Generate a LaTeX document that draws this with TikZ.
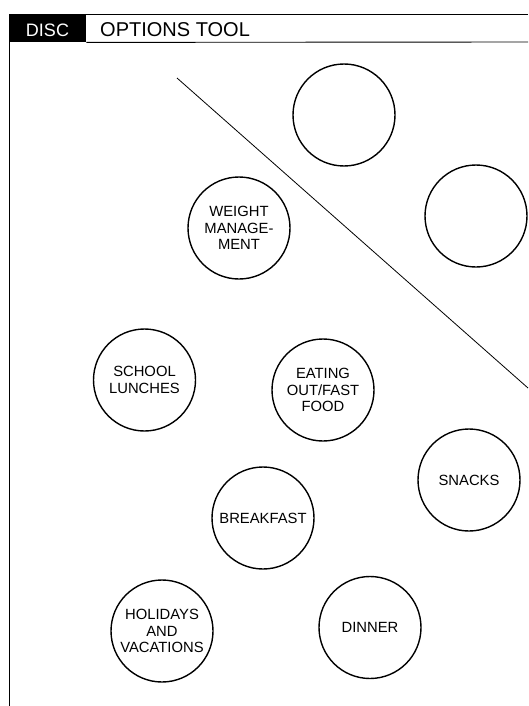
\documentclass[tikz,border=0pt]{standalone}
\usepackage{fontspec}
\setmainfont{Liberation Sans}
\usetikzlibrary{
    positioning
}
\tikzset{
  option/.style = {draw, circle, line width=1.4pt, minimum size=102pt,
                   inner sep=0pt, align=center,
                   font=\fontsize{14.8}{16.7}\selectfont},
  hdr/.style    = {inner sep=0pt, font=\fontsize{20}{24}\selectfont},
  rule/.style   = {line width=0.9pt}
}

\begin{document}
\begin{tikzpicture}[x=1pt, y=-1pt]
    \useasboundingbox (0,0) rectangle (528,706);

    % ── HEADER ──
    \node[fill=black, minimum width=77pt, minimum height=28pt,
          inner sep=0pt, anchor=north west] (tag) at (9,14) {};
    \node[hdr, text=white, anchor=base,
          font=\fontsize{18}{24}\selectfont] (disc) at (47.5,37) {DISC};
    \node[hdr, anchor=base west] (title) at (100,37) {OPTIONS TOOL};
    \coordinate (topR) at (528,14);
    \coordinate (midR) at (528,42);
    \coordinate (botL) at (9,706);
    \draw[rule] (tag.north west) -- (topR);
    \draw[rule] (tag.south east) -- (midR);
    \draw[rule] (tag.south west) -- (botL);

    % ── DIVIDER ──
    \coordinate (divA) at (177,78);
    \coordinate (divB) at (528,388);
    \draw[line width=0.8pt] (divA) -- (divB);

    % ── OPTIONS ──
    \node[option] (blank1)  at (344,115) {};
    \node[option] (blank2)  at (476,216) {};
    \node[option] (weight)  at (239,228) {WEIGHT\\MANAGE-\\MENT};
    \node[option] (school)  at (144.5,380) {SCHOOL\\LUNCHES};
    \node[option] (eating)  at (323,390) {EATING\\OUT/FAST\\FOOD};
    \node[option] (snacks)  at (469,480) {SNACKS};
    \node[option] (brkfst)  at (263,518) {BREAKFAST};
    \node[option] (holiday) at (162,631) {HOLIDAYS\\AND\\VACATIONS};
    \node[option] (dinner)  at (370,627.5) {DINNER};
\end{tikzpicture}
\end{document}
